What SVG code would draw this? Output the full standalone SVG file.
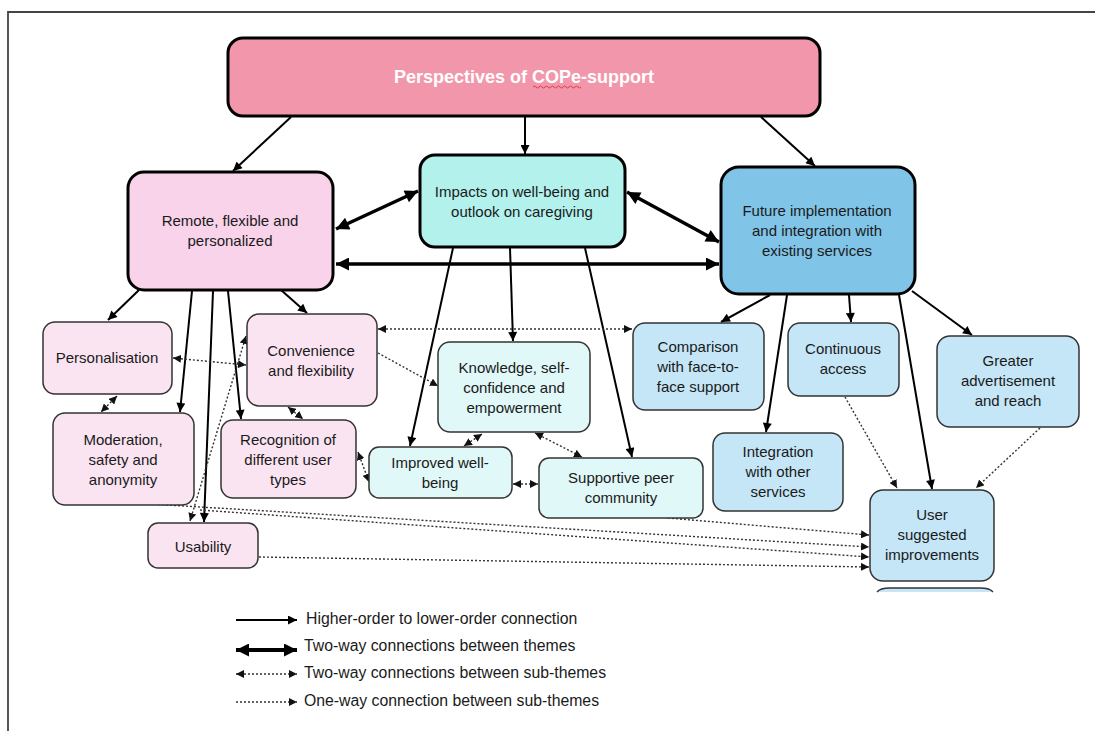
<svg xmlns="http://www.w3.org/2000/svg" width="1095" height="731" viewBox="0 0 1095 731">
<defs>
<style>
text{font-family:"Liberation Sans",Arial,sans-serif;font-size:15px;fill:#1a1a1a;text-anchor:middle}
.theme{stroke:#000;stroke-width:3}
.sub{stroke:#333;stroke-width:1.5}
.pink{fill:#fbe4f2}
.teal{fill:#e0f8f7}
.blue{fill:#c4e6f7}
.solid{stroke:#000;stroke-width:2;fill:none;marker-end:url(#ah)}
.thick{stroke:#000;stroke-width:3.5;fill:none;marker-start:url(#ahT);marker-end:url(#ahT)}
.dot2{stroke:#333;stroke-width:1.4;stroke-dasharray:2 2;fill:none;marker-start:url(#ahD);marker-end:url(#ahD)}
.dot1{stroke:#333;stroke-width:1.4;stroke-dasharray:2 2;fill:none;marker-end:url(#ahD)}
.leg{text-anchor:start;font-size:15.8px}
</style>
<marker id="ah" viewBox="0 0 10 10" refX="10" refY="5" markerWidth="10" markerHeight="9" markerUnits="userSpaceOnUse" orient="auto-start-reverse"><path d="M0,0 L10,5 L0,10 z" fill="#000"/></marker>
<marker id="ahT" viewBox="0 0 10 10" refX="10" refY="5" markerWidth="14" markerHeight="13" markerUnits="userSpaceOnUse" orient="auto-start-reverse"><path d="M0,0 L10,5 L0,10 z" fill="#000"/></marker>
<marker id="ahD" viewBox="0 0 10 10" refX="10" refY="5" markerWidth="8" markerHeight="8" markerUnits="userSpaceOnUse" orient="auto-start-reverse"><path d="M0,0 L10,5 L0,10 z" fill="#111"/></marker>
</defs>
<rect width="1095" height="731" fill="#fff"/>
<path d="M8,731 V12 H1095" fill="none" stroke="#444" stroke-width="1.8"/>

<g id="connectors">
<line class="solid" x1="291" y1="117" x2="233" y2="171"/>
<line class="solid" x1="525" y1="117" x2="525" y2="154"/>
<line class="solid" x1="761" y1="117" x2="815" y2="166"/>
<line class="thick" x1="336" y1="229" x2="418" y2="191"/>
<line class="thick" x1="627" y1="192" x2="719" y2="242"/>
<line class="thick" x1="336" y1="264" x2="719" y2="264"/>
<line class="solid" x1="139" y1="290" x2="108" y2="320"/>
<line class="solid" x1="192" y1="291" x2="180" y2="412"/>
<line class="solid" x1="213" y1="291" x2="204" y2="522"/>
<line class="solid" x1="228" y1="291" x2="241" y2="419"/>
<line class="solid" x1="281" y1="290" x2="307" y2="313"/>
<line class="solid" x1="453" y1="248" x2="410" y2="446"/>
<line class="solid" x1="510" y1="248" x2="513" y2="341"/>
<line class="solid" x1="585" y1="248" x2="632" y2="457"/>
<line class="solid" x1="770" y1="295" x2="721" y2="322"/>
<line class="solid" x1="787" y1="295" x2="766" y2="432"/>
<line class="solid" x1="849" y1="295" x2="851" y2="322"/>
<line class="solid" x1="899" y1="295" x2="932" y2="489"/>
<line class="solid" x1="912" y1="291" x2="972" y2="335"/>
<line class="dot2" x1="173" y1="358" x2="246" y2="365"/>
<line class="dot2" x1="117" y1="396" x2="101" y2="412"/>
<line class="dot2" x1="288" y1="407" x2="303" y2="419"/>
<line class="dot2" x1="378" y1="329" x2="632" y2="329"/>
<line class="dot2" x1="358" y1="452" x2="369" y2="482"/>
<line class="dot2" x1="482" y1="434" x2="464" y2="446"/>
<line class="dot2" x1="535" y1="433" x2="582" y2="457"/>
<line class="dot2" x1="513" y1="484" x2="538" y2="484"/>
<line class="dot2" x1="190" y1="521" x2="246" y2="336"/>
<line class="dot1" x1="378" y1="353" x2="438" y2="386"/>
<line class="dot1" x1="845" y1="397" x2="897" y2="488"/>
<line class="dot1" x1="1040" y1="428" x2="976" y2="488"/>
<line class="dot1" x1="668" y1="518" x2="869" y2="535"/>
<line class="dot1" x1="150" y1="504" x2="869" y2="547"/>
<line class="dot1" x1="200" y1="510" x2="869" y2="557"/>
<line class="dot1" x1="259" y1="557" x2="869" y2="567"/>
</g>

<g id="n-top">
<rect x="228" y="38" width="592" height="78" rx="15" fill="#f297ab" class="theme"/>
<text x="524" y="83" style="font-weight:bold;font-size:18px;fill:#fff">Perspectives of COPe-support</text>
<path d="M533,87 q1.5,-2 3,0 t3,0 t3,0 t3,0 t3,0 t3,0 t3,0 t3,0 t3,0 t3,0 t3,0 t3,0 t3,0 t3,0 t3,0 t3,0" fill="none" stroke="#e0303a" stroke-width="0.9"/>
</g>

<g id="n-remote">
<rect x="128" y="172" width="205" height="118" rx="16" fill="#f8d3ea" class="theme"/>
<text x="230" y="226">Remote, flexible and</text>
<text x="230" y="246">personalized</text>
</g>
<g id="n-impacts">
<rect x="420" y="155" width="205" height="92" rx="15" fill="#b3f1ed" class="theme"/>
<text x="522" y="197">Impacts on well-being and</text>
<text x="522" y="217">outlook on caregiving</text>
</g>
<g id="n-future">
<rect x="721" y="167" width="194" height="127" rx="18" fill="#80c4e7" class="theme"/>
<text x="817" y="216">Future implementation</text>
<text x="817" y="236">and integration with</text>
<text x="817" y="256">existing services</text>
</g>

<g id="n-personalisation">
<rect x="43" y="322" width="129" height="72" rx="12" class="pink sub"/>
<text x="107" y="363">Personalisation</text>
</g>
<g id="n-convenience">
<rect x="247" y="314" width="130" height="92" rx="12" class="pink sub"/>
<text x="311" y="356">Convenience</text>
<text x="311" y="376">and flexibility</text>
</g>
<g id="n-moderation">
<rect x="53" y="413" width="141" height="92" rx="12" class="pink sub"/>
<text x="123" y="445">Moderation,</text>
<text x="123" y="465">safety and</text>
<text x="123" y="485">anonymity</text>
</g>
<g id="n-recognition">
<rect x="221" y="420" width="135" height="78" rx="12" class="pink sub"/>
<text x="288" y="445">Recognition of</text>
<text x="288" y="465">different user</text>
<text x="288" y="485">types</text>
</g>
<g id="n-usability">
<rect x="148" y="523" width="110" height="45" rx="10" class="pink sub"/>
<text x="203" y="552">Usability</text>
</g>

<g id="n-knowledge">
<rect x="438" y="342" width="152" height="90" rx="12" class="teal sub"/>
<text x="514" y="373">Knowledge, self-</text>
<text x="514" y="393">confidence and</text>
<text x="514" y="413">empowerment</text>
</g>
<g id="n-improved">
<rect x="369" y="447" width="143" height="51" rx="10" class="teal sub"/>
<text x="440" y="468">Improved well-</text>
<text x="440" y="488">being</text>
</g>
<g id="n-supportive">
<rect x="539" y="458" width="164" height="60" rx="10" class="teal sub"/>
<text x="621" y="483">Supportive peer</text>
<text x="621" y="503">community</text>
</g>

<g id="n-comparison">
<rect x="633" y="323" width="131" height="87" rx="12" class="blue sub"/>
<text x="698" y="352">Comparison</text>
<text x="698" y="372">with face-to-</text>
<text x="698" y="392">face support</text>
</g>
<g id="n-continuous">
<rect x="788" y="323" width="111" height="73" rx="12" class="blue sub"/>
<text x="843" y="354">Continuous</text>
<text x="843" y="374">access</text>
</g>
<g id="n-greater">
<rect x="937" y="336" width="142" height="91" rx="13" class="blue sub"/>
<text x="1008" y="366">Greater</text>
<text x="1008" y="386">advertisement</text>
<text x="1008" y="406">and reach</text>
</g>
<g id="n-integration">
<rect x="713" y="433" width="130" height="78" rx="12" class="blue sub"/>
<text x="778" y="457">Integration</text>
<text x="778" y="477">with other</text>
<text x="778" y="497">services</text>
</g>
<g id="n-user">
<rect x="870" y="490" width="124" height="91" rx="13" class="blue sub"/>
<text x="932" y="520">User</text>
<text x="932" y="540">suggested</text>
<text x="932" y="560">improvements</text>
</g>
<g id="n-partial">
<path d="M877,592 Q880,588 890,588 H980 Q990,588 993,592 Z" fill="#c4e6f7"/>
<path d="M877,592 Q880,588 890,588 H980 Q990,588 993,592" fill="none" stroke="#333" stroke-width="1.3"/>
</g>

<g id="legend">
<line class="solid" x1="236" y1="620" x2="297" y2="620"/>
<text class="leg" x="306" y="624">Higher-order to lower-order connection</text>
<line class="thick" x1="236" y1="650" x2="297" y2="650" style="stroke-width:4"/>
<text class="leg" x="304" y="651">Two-way connections between themes</text>
<line class="dot2" x1="236" y1="674" x2="297" y2="674"/>
<text class="leg" x="304" y="678">Two-way connections between sub-themes</text>
<line class="dot1" x1="236" y1="702" x2="297" y2="702"/>
<text class="leg" x="304" y="706">One-way connection between sub-themes</text>
</g>
</svg>
